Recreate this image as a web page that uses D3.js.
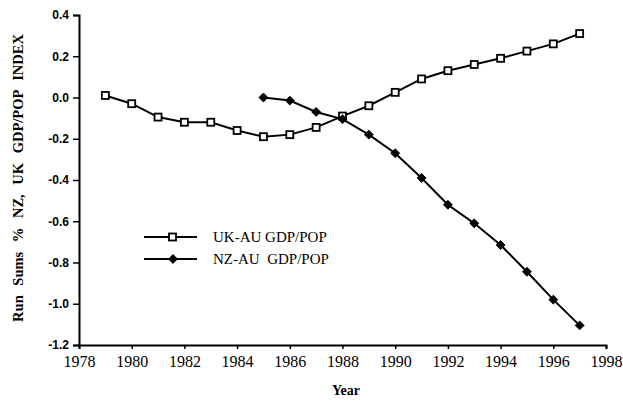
<!DOCTYPE html>
<html>
<head>
<meta charset="utf-8">
<script src="https://cdn.jsdelivr.net/npm/d3@7"></script>
<style>
  body { margin: 0; background: #fff; }
  svg { display: block; }
  .serif { font-family: "Times New Roman", Times, "Liberation Serif", serif; }
</style>
</head>
<body>
<svg id="chart" width="623" height="401"></svg>
<script>
// values
const ukYears = [1979, 1980, 1981, 1982, 1983, 1984, 1985, 1986, 1987, 1988,
                 1989, 1990, 1991, 1992, 1993, 1994, 1995, 1996, 1997];
const ukValues = [0.01, -0.03, -0.095, -0.12, -0.12, -0.16, -0.19, -0.18, -0.145, -0.09,
                  -0.04, 0.025, 0.09, 0.13, 0.16, 0.19, 0.225, 0.26, 0.31];
const nzYears = [1985, 1986, 1987, 1988, 1989, 1990, 1991, 1992, 1993, 1994, 1995, 1996, 1997];
const nzValues = [0.0, -0.015, -0.07, -0.105, -0.18, -0.27, -0.39, -0.52, -0.61, -0.715, -0.845, -0.98, -1.105];
const xTicks = [1978, 1980, 1982, 1984, 1986, 1988, 1990, 1992, 1994, 1996, 1998];
const yTicks = [0.4, 0.2, 0.0, -0.2, -0.4, -0.6, -0.8, -1.0, -1.2];
const seriesNames = ["UK-AU GDP/POP", "NZ-AU  GDP/POP"];

const svg = d3.select("#chart");

const x = d3.scaleLinear().domain([1978, 1998]).range([79, 606]);
const y = d3.scaleLinear().domain([-1.2, 0.4]).range([345, 15]);

// axes
const xAxis = svg.append("g")
    .attr("transform", "translate(0," + y(-1.2) + ")")
    .call(d3.axisBottom(x).tickValues(xTicks).tickFormat(d3.format("d")).tickSize(4).tickPadding(7));

xAxis.select(".domain").attr("stroke-width", 2);
xAxis.selectAll("line").attr("stroke-width", 1.5);
xAxis.selectAll("text")
    .attr("class", "serif")
    .attr("font-family", null)
    .attr("font-size", 16)
    .attr("fill", "#000");

const yAxis = svg.append("g")
    .attr("transform", "translate(" + x(1978) + ",0)")
    .call(d3.axisLeft(y).tickValues(yTicks).tickFormat(d3.format(".1f")).tickSize(6).tickPadding(4));

yAxis.select(".domain").attr("stroke-width", 2);
yAxis.selectAll("line").attr("stroke-width", 1.5);
yAxis.selectAll("text")
    .attr("font-family", "Arial, 'Liberation Sans', sans-serif")
    .attr("font-size", 12)
    .attr("font-weight", "bold")
    .attr("fill", "#000")
    .text(d => d3.format(".1f")(d).replace("−", "-"));

// axis titles
svg.append("text")
    .attr("class", "serif")
    .attr("x", 346)
    .attr("y", 395)
    .attr("text-anchor", "middle")
    .attr("font-weight", "bold")
    .attr("font-size", 14)
    .text("Year");

svg.append("text")
    .attr("class", "serif")
    .attr("transform", "translate(23,178) rotate(-90)")
    .attr("text-anchor", "middle")
    .attr("font-weight", "bold")
    .attr("font-size", 14.5)
    .attr("word-spacing", 6)
    .text("Run Sums % NZ, UK GDP/POP INDEX");

// lines
const line = d3.line()
    .x(d => x(d[0]))
    .y(d => y(d[1]));

const ukData = d3.zip(ukYears, ukValues);
const nzData = d3.zip(nzYears, nzValues);

[ukData, nzData].forEach(data => {
    svg.append("path")
        .datum(data)
        .attr("d", line)
        .attr("fill", "none")
        .attr("stroke", "#000")
        .attr("stroke-width", 2);
});

// markers
svg.selectAll("rect.uk")
    .data(ukData)
    .join("rect")
    .attr("class", "uk")
    .attr("x", d => x(d[0]) - 3.5)
    .attr("y", d => y(d[1]) - 3.5)
    .attr("width", 7)
    .attr("height", 7)
    .attr("fill", "#fff")
    .attr("stroke", "#000")
    .attr("stroke-width", 1.8);

const diamond = d3.symbol().type(d3.symbolDiamond2).size(50);

svg.selectAll("path.nz")
    .data(nzData)
    .join("path")
    .attr("class", "nz")
    .attr("transform", d => "translate(" + x(d[0]) + "," + y(d[1]) + ")")
    .attr("d", diamond)
    .attr("fill", "#000")
    .attr("stroke", "#000")
    .attr("stroke-width", 1);

// legend
const legend = svg.append("g").attr("transform", "translate(144,237)");

seriesNames.forEach((name, i) => {
    const g = legend.append("g").attr("transform", "translate(0," + i * 22 + ")");
    g.append("line")
        .attr("x1", 0).attr("x2", 53)
        .attr("y1", 0).attr("y2", 0)
        .attr("stroke", "#000")
        .attr("stroke-width", 2);
    if (i === 0) {
        g.append("rect")
            .attr("x", 25).attr("y", -3.5)
            .attr("width", 7).attr("height", 7)
            .attr("fill", "#fff")
            .attr("stroke", "#000")
            .attr("stroke-width", 1.8);
    } else {
        g.append("path")
            .attr("transform", "translate(29,0)")
            .attr("d", diamond)
            .attr("fill", "#000")
            .attr("stroke", "#000")
            .attr("stroke-width", 1);
    }
    g.append("text")
        .attr("class", "serif")
        .attr("x", 69)
        .attr("y", 5)
        .attr("font-size", 15)
        .style("white-space", "pre")
        .text(name);
});
</script>
</body>
</html>
